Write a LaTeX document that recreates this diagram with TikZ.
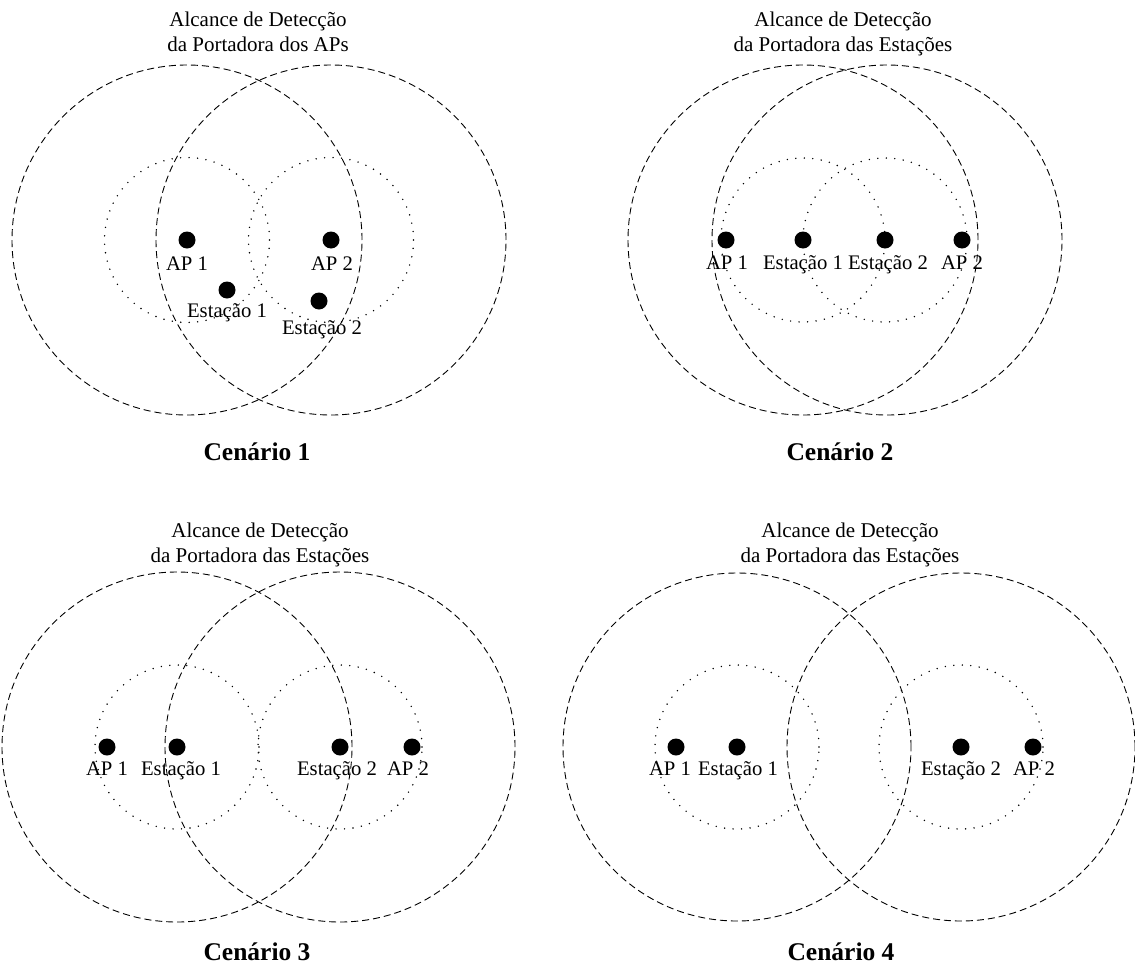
\documentclass[tikz,border=0pt]{standalone}
\usepackage{fontspec}
\setmainfont{Liberation Serif}
\begin{document}
\begin{tikzpicture}[x=1pt,y=-1pt,
  dotnode/.style={circle,fill=black,inner sep=0pt,minimum size=17pt},
  lbl/.style={anchor=base,inner sep=0pt,font=\fontsize{20.7}{25}\selectfont},
  ttl/.style={anchor=base,inner sep=0pt,font=\fontsize{21}{25}\selectfont},
  cen/.style={anchor=base,inner sep=0pt,font=\fontsize{25.5}{30}\selectfont\bfseries},
  bigc/.style={draw=black,line width=0.9pt,dash pattern=on 7pt off 4pt},
  smallc/.style={draw=black,line width=1.6pt,line cap=round,dash pattern=on 0pt off 8.5pt}]
\useasboundingbox (0,0) rectangle (1135,969);
\fill[white] (0,0) rectangle (1135,969);

% ---------------- Scenario 1
\node[dotnode] (a1) at (187,240) {};
\node[dotnode] (a2) at (331,240) {};
\node[dotnode] (a3) at (227,290) {};
\node[dotnode] (a4) at (319,301) {};
\draw[bigc] (a1.center) circle[radius=175pt];
\draw[bigc] (a2.center) circle[radius=175pt];
\draw[smallc] (a1.center) circle[radius=82.5pt];
\draw[smallc] (a2.center) circle[radius=82.5pt];
\node[lbl] (la1) at (187,270) {AP 1};
\node[lbl] (la2) at (332,270) {AP 2};
\node[lbl] (la3) at (227,317) {Estação 1};
\node[lbl] (la4) at (322,334) {Estação 2};
\node[ttl] (ta1) at (258,27) {Alcance de Detecção};
\node[ttl] (ta2) at (258,51) {da Portadora dos APs};
\node[cen] (ca) at (257,460) {Cenário 1};

% ---------------- Scenario 2
\node[dotnode] (b1) at (726,240) {};
\node[dotnode] (b2) at (803,240) {};
\node[dotnode] (b3) at (885,240) {};
\node[dotnode] (b4) at (962,240) {};
\draw[bigc] (b2.center) circle[radius=175pt];
\draw[bigc] ([xshift=2pt]b3.center) circle[radius=175pt];
\draw[smallc] (b2.center) circle[radius=82pt];
\draw[smallc] (b3.center) circle[radius=82pt];
\node[lbl] (lb1) at (727,269) {AP 1};
\node[lbl] (lb2) at (803,269) {Estação 1};
\node[lbl] (lb3) at (888,269) {Estação 2};
\node[lbl] (lb4) at (962,269) {AP 2};
\node[ttl] (tb1) at (843,27) {Alcance de Detecção};
\node[ttl] (tb2) at (843,51) {da Portadora das Estações};
\node[cen] (cb) at (840,460) {Cenário 2};

% ---------------- Scenario 3
\node[dotnode] (c1) at (107,747) {};
\node[dotnode] (c2) at (177,747) {};
\node[dotnode] (c3) at (340,747) {};
\node[dotnode] (c4) at (412,747) {};
\draw[bigc] (c2.center) circle[radius=175pt];
\draw[bigc] (c3.center) circle[radius=175pt];
\draw[smallc] (c2.center) circle[radius=82pt];
\draw[smallc] (c3.center) circle[radius=82pt];
\node[lbl] (lc1) at (107,775) {AP 1};
\node[lbl] (lc2) at (181,775) {Estação 1};
\node[lbl] (lc3) at (337,775) {Estação 2};
\node[lbl] (lc4) at (408,775) {AP 2};
\node[ttl] (tc1) at (260,537) {Alcance de Detecção};
\node[ttl] (tc2) at (260,562) {da Portadora das Estações};
\node[cen] (cc) at (257,960) {Cenário 3};

% ---------------- Scenario 4
\node[dotnode] (d1) at (676,747) {};
\node[dotnode] (d2) at (737,747) {};
\node[dotnode] (d3) at (961,747) {};
\node[dotnode] (d4) at (1033,747) {};
\draw[bigc] (d2.center) circle[radius=174pt];
\draw[bigc] (d3.center) circle[radius=174pt];
\draw[smallc] (d2.center) circle[radius=82pt];
\draw[smallc] (d3.center) circle[radius=82pt];
\node[lbl] (ld1) at (670,775) {AP 1};
\node[lbl] (ld2) at (738,775) {Estação 1};
\node[lbl] (ld3) at (961,775) {Estação 2};
\node[lbl] (ld4) at (1034,775) {AP 2};
\node[ttl] (td1) at (850,537) {Alcance de Detecção};
\node[ttl] (td2) at (850,562) {da Portadora das Estações};
\node[cen] (cd) at (841,960) {Cenário 4};
\end{tikzpicture}
\end{document}
